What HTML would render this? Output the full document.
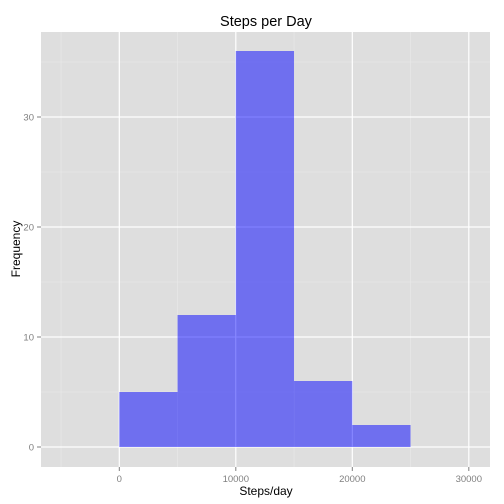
<!DOCTYPE html>
<html><head><meta charset="utf-8"><style>
body{margin:0;background:#fff}
svg{display:block;font-family:"Liberation Sans",sans-serif}
</style></head><body>
<svg id="c" width="504" height="504">
<rect x="41" y="32" width="449" height="435" fill="#dedede"/>
<g id="grid"></g><g id="bars"></g><g id="axes"></g>
<text x="266" y="26" font-size="14.5" text-anchor="middle" fill="#000">Steps per Day</text>
<text x="266" y="495" font-size="12" text-anchor="middle" fill="#000">Steps/day</text>
<text transform="translate(20,249) rotate(-90)" font-size="12" text-anchor="middle" fill="#000">Frequency</text>
</svg>
<script>
const binStarts=[0,5000,10000,15000,20000];
const binWidth=5000;
const counts=[5,12,36,6,2];
const xTicks=[0,10000,20000,30000];
const yTicks=[0,10,20,30];
const xMinor=[-5000,5000,15000,25000];
const yMinor=[5,15,25,35];
const NS="http://www.w3.org/2000/svg";
const X=v=>119.3+v*0.01165;
const Y=v=>447-v*11;
function mk(p,t,a){const e=document.createElementNS(NS,t);for(const k in a)e.setAttribute(k,a[k]);p.appendChild(e);return e;}
const g=document.getElementById('grid'),b=document.getElementById('bars'),ax=document.getElementById('axes');
xMinor.forEach(v=>{const e=mk(g,'line',{x1:X(v),x2:X(v),y1:32,y2:467,stroke:'#eaeaea','stroke-width':0.6});

});
yMinor.forEach(v=>{const e=mk(g,'line',{x1:41,x2:490,y1:Y(v),y2:Y(v),stroke:'#eaeaea','stroke-width':0.6});

});
xTicks.forEach(v=>{const e=mk(g,'line',{x1:X(v),x2:X(v),y1:32,y2:467,stroke:'#fff','stroke-width':1.2});


mk(ax,'line',{x1:X(v),x2:X(v),y1:467,y2:471,stroke:'#7f7f7f'});
const t=mk(ax,'text',{x:X(v),y:482,'font-size':9.5,'text-anchor':'middle',fill:'#7f7f7f'});t.textContent=v;

});
yTicks.forEach(v=>{const e=mk(g,'line',{x1:41,x2:490,y1:Y(v),y2:Y(v),stroke:'#fff','stroke-width':1.2});


mk(ax,'line',{x1:37,x2:41,y1:Y(v),y2:Y(v),stroke:'#7f7f7f'});
const t=mk(ax,'text',{x:34,y:Y(v)+3.5,'font-size':9.5,'text-anchor':'end',fill:'#7f7f7f'});t.textContent=v;

});
counts.forEach((c,i)=>{const x0=X(binStarts[i]),x1=X(binStarts[i]+binWidth);
const r=mk(b,'rect',{x:x0,y:Y(c),width:x1-x0,height:Y(0)-Y(c),fill:'#0000ff','fill-opacity':0.5});

});
</script>
</body></html>
